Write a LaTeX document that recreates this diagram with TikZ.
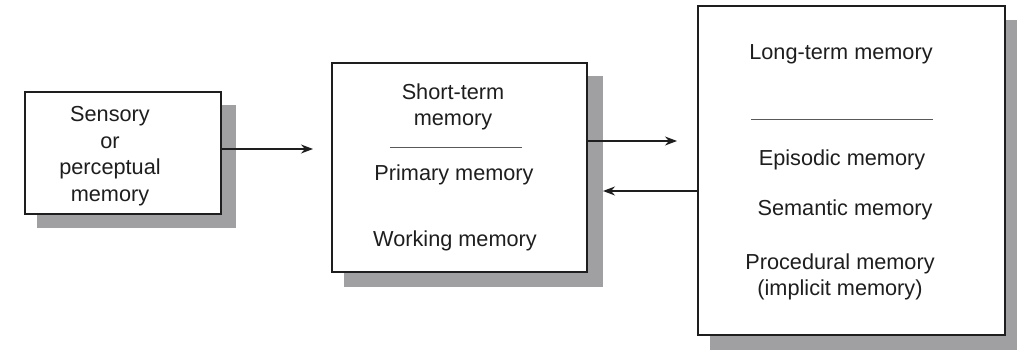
\documentclass[tikz,border=0pt]{standalone}
\usepackage{fontspec}
\setmainfont{Liberation Sans}
\usetikzlibrary{arrows.meta}
\definecolor{shadowc}{RGB}{160,160,162}
\definecolor{inkc}{RGB}{30,30,30}
\tikzset{
  box/.style={draw=inkc, line width=1.5pt, fill=white, inner sep=0pt},
  lbl/.style={font=\fontsize{21.7}{26.5}\selectfont, text=inkc, align=center, inner sep=0pt},
  divider/.style={draw=black!65, line width=1pt},
  conn/.style={draw=inkc, line width=1.3pt, -{Stealth[length=12pt,width=9pt]}}
}
\begin{document}
\begin{tikzpicture}[x=1pt,y=-1pt]
\useasboundingbox (0,0) rectangle (1017,350);
% shadows
\fill[shadowc] (37,105) rectangle (236,228);
\fill[shadowc] (344,76) rectangle (603,287);
\fill[shadowc] (710,20) rectangle (1017,350);
% boxes
\node[box, minimum width=196pt, minimum height=122pt] (sens) at (123,153) {};
\node[box, minimum width=255pt, minimum height=209pt] (stm) at (459.5,167.5) {};
\node[box, minimum width=307pt, minimum height=329pt] (ltm) at (851.5,170.5) {};
% texts box 1
\node[lbl] (t1) at (110,156) {Sensory\\or\\perceptual\\memory};
% texts box 2
\node[lbl] (t2) at (453,107) {Short-term\\memory};
\draw[divider] (390,148) -- (522,148);
\node[lbl] (t3) at (454,175) {Primary memory};
\node[lbl] (t4) at (455,241) {Working memory};
% texts box 3
\node[lbl] (t5) at (841,54) {Long-term memory};
\draw[divider] (751,120) -- (933,120);
\node[lbl] (t6) at (842,160) {Episodic memory};
\node[lbl] (t7) at (845,210) {Semantic memory};
\node[lbl] (t8) at (840,277) {Procedural memory\\(implicit memory)};
% connectors
\coordinate (a1) at (313,149);
\coordinate (a2) at (677,141);
\coordinate (a3) at (603,191);
\draw[conn] (sens.east |- a1) -- (a1);
\draw[conn] (stm.east |- a2) -- (a2);
\draw[conn] (ltm.west |- a3) -- (a3);
\end{tikzpicture}
\end{document}
